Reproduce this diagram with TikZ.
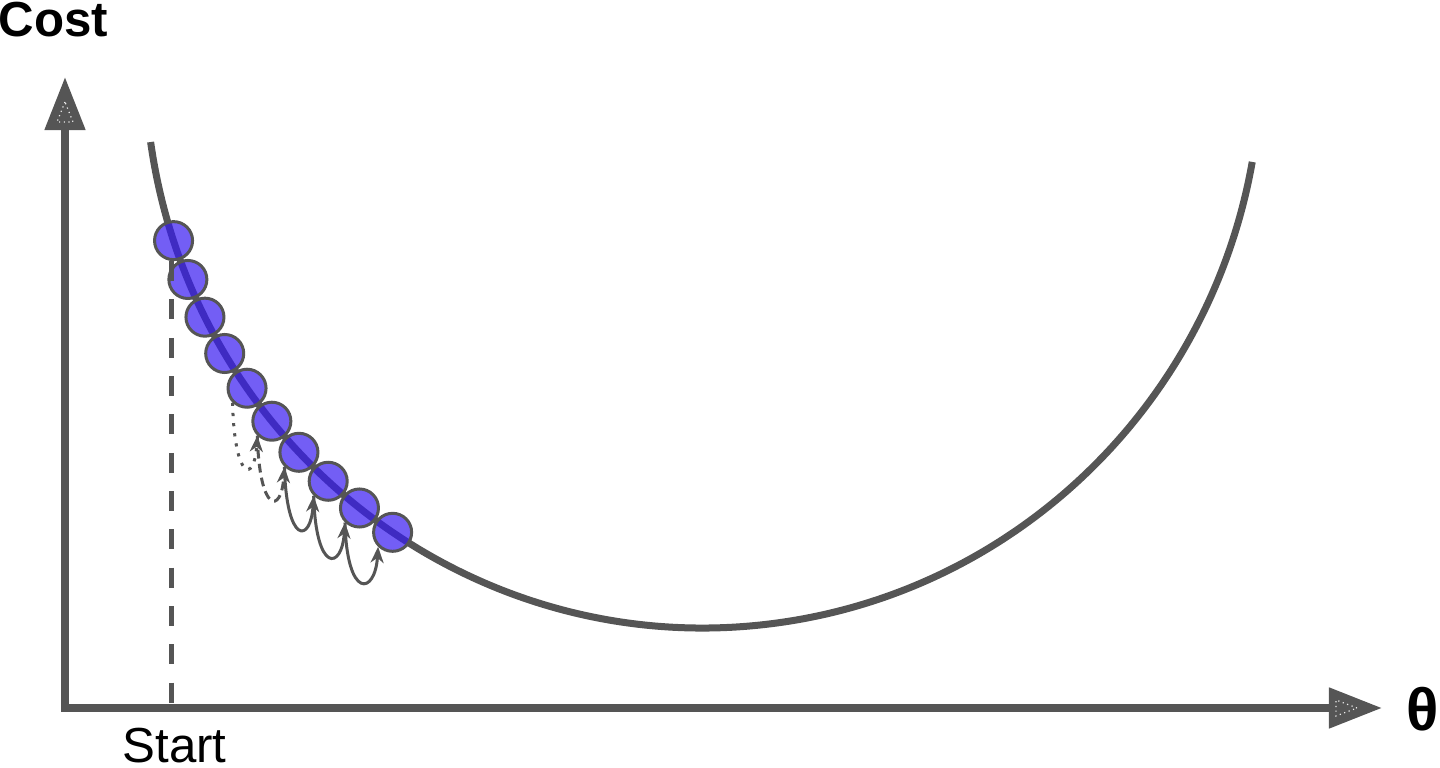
\documentclass[tikz,border=0pt]{standalone}
\usepackage{fontspec}
\setmainfont{Liberation Sans}
\usepackage{tikz}
\usetikzlibrary{arrows.meta}
\definecolor{axisgray}{RGB}{85,85,85}
\definecolor{ballblue}{RGB}{55,26,241}

\begin{document}
\begin{tikzpicture}[x=0.01cm,y=-0.01cm,
  axis/.style={line width=0.8mm, axisgray, line join=miter,
    {Triangle[length=5.3mm,width=3.9mm]}-{Triangle[length=5.3mm,width=3.9mm]}},
  hint/.style={draw=white!85!gray, line width=0.12mm, densely dotted},
  curve/.style={line width=0.7mm, axisgray},
  ball/.style={circle, minimum size=3.8mm, inner sep=0pt, draw=axisgray,
    line width=0.3mm, fill=ballblue, fill opacity=0.7},
  dropline/.style={line width=0.5mm, axisgray, dash pattern=on 2mm off 1.83mm},
  hop/.style={line width=0.3mm, axisgray, -{Stealth[length=1.6mm,width=1.3mm,inset=0.5mm]}},
  hopdot/.style={hop, dash pattern=on 0.9pt off 2pt},
  hopdash/.style={hop, dash pattern=on 2.5pt off 1.5pt},
  lbl/.style={inner sep=0pt, font=\fontsize{14pt}{16pt}\selectfont}]
\useasboundingbox (0,0) rectangle (1440,768);

\coordinate (O) at (65,708);
\coordinate (ytip) at (65,77);
\coordinate (xtip) at (1382,708);
\coordinate (E) at (703,62);

% cost curve
\draw[curve] (E) ++(171.87:558 and 566) arc[start angle=171.87, end angle=10.17, x radius=558, y radius=566];

% steps of gradient descent
\foreach \k in {1,...,10}
  \path (E) ++({165.8-4.2*\k}:558 and 566) node[ball] (c\k) {};

\draw[dropline] ([xshift=-0.25mm]c1.south) -- ([xshift=-0.25mm]c1.south |- O);

\foreach \a/\b/\look in {5/6/hopdot, 6/7/hopdash, 7/8/hop, 8/9/hop, 9/10/hop}
  \draw[\look] (c\a.225) .. controls +(2,78) and +(-3,48) .. (c\b.225);

% axes
\draw[axis] (xtip) -| (ytip);
\draw[hint] (ytip) ++(0,25) -- ++(-8,20) -- ++(16,0) -- cycle;
\draw[hint] (xtip) ++(-25,0) -- ++(-21,-8) -- ++(0,16) -- cycle;

\node[lbl, anchor=base west, font=\fontsize{14pt}{16pt}\selectfont\bfseries] (cost) at (-2,37) {Cost};
\node[lbl, anchor=base, font=\fontsize{17pt}{19pt}\selectfont\bfseries] (theta) at (1423,731) {θ};
\node[lbl, anchor=base west] (start) at (122,763) {Start};
\end{tikzpicture}
\end{document}
